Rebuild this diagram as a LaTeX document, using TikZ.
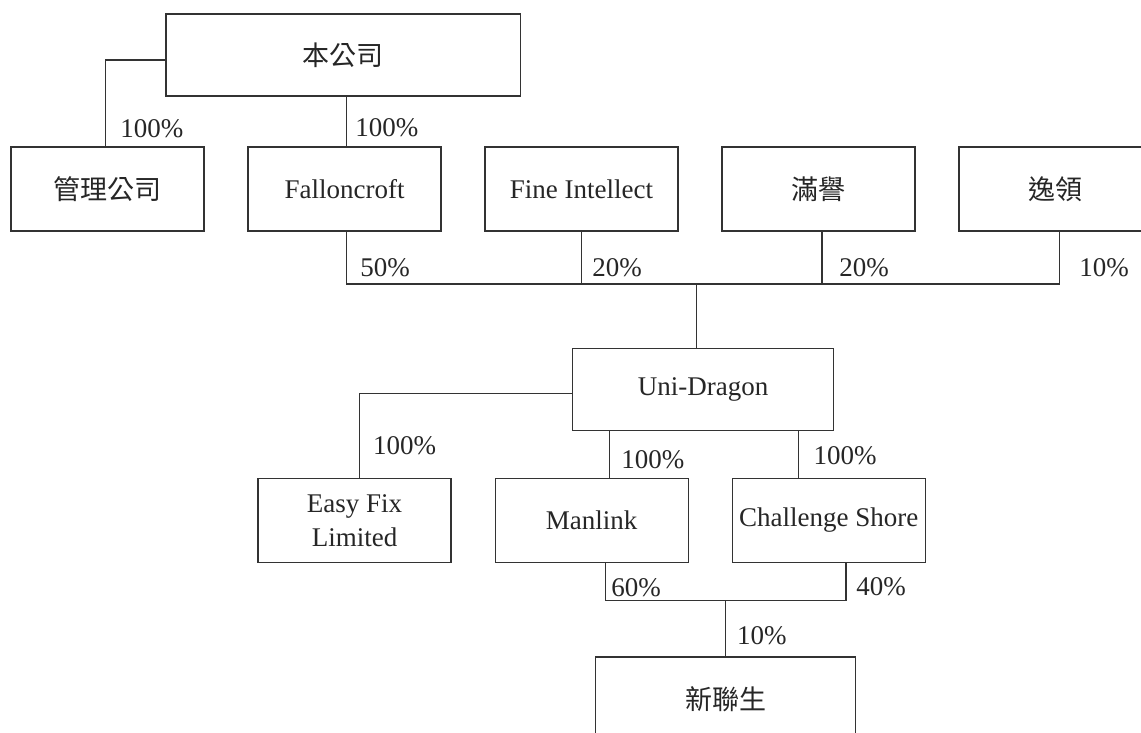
\documentclass[tikz,border=0pt]{standalone}
\usepackage{fontspec}
\setmainfont{Liberation Serif}
\newfontfamily\cjk{Noto Sans CJK TC}
\usetikzlibrary{calc}

\tikzset{
	box/.style = {draw=black!80, line width=0.65pt, text=black!85, inner sep=0pt,
		minimum width=96.5pt, minimum height=42pt, align=center,
		font=\fontsize{13.5}{17}\selectfont},
	pct/.style = {anchor=base west, inner sep=0pt, text=black!85,
		font=\fontsize{13.5}{17}\selectfont},
	link/.style = {draw=black!80, line width=0.6pt}
}

\begin{document}
\begin{tikzpicture}[x=0.5pt, y=-0.5pt]
	\useasboundingbox (0,0) rectangle (1141,733);
	\clip (0,0) rectangle (1141,733);
	% top
	\node[box, minimum width=177.3pt, minimum height=41pt] (parent) at (343.4,55) {\cjk 本公司};
	\node[box] (mgmt) at (107.5,189) {\cjk 管理公司};
	\node[box] (fallon) at (344.5,189) {Falloncroft};
	\node[box] (fine) at (581.5,189) {Fine Intellect};
	\node[box] (manyu) at (818.5,189) {\cjk 滿譽};
	\node[box] (yatling) at (1055.5,189) {\cjk 逸領};
	% middle
	\node[box, minimum width=130.5pt, minimum height=41pt] (unidragon) at (703.2,389.5) {Uni-Dragon};
	\node[box] (easyfix) at (354.5,520.5) {Easy Fix\\Limited};
	\node[box] (manlink) at (591.7,520.5) {Manlink};
	\node[box] (challenge) at (828.7,520.5) {Challenge Shore};
	% bottom
	\node[box, minimum width=130pt] (newco) at (725.8,699) {\cjk 新聯生};

	\coordinate (bus) at (696.3,284);
	\coordinate (join) at (725.7,600.7);
	\coordinate (udl) at ([xshift=18.8pt]unidragon.south west);
	\coordinate (udr) at ([xshift=-18pt]unidragon.south east);

	\draw[link] ([yshift=-2.5pt]parent.west) -| ([xshift=-1pt]mgmt.north);
	\draw[link] ([xshift=1pt]fallon.north) -- ([xshift=1pt]fallon.north |- parent.south);
	\draw[link] ([xshift=1pt]fallon.south) -- ([xshift=1pt]fallon.south |- bus) -- ([xshift=2pt]yatling.south |- bus) -- ([xshift=2pt]yatling.south);
	\draw[link] (fine.south) -- (fine.south |- bus);
	\draw[link] ([xshift=1.7pt]manyu.south) -- ([xshift=1.7pt]manyu.south |- bus);
	\draw[link] (bus) -- (bus |- unidragon.north);
	\draw[link] ([yshift=-2pt]unidragon.west) -| ([xshift=2.6pt]easyfix.north);
	\draw[link] (udl) -- (udl |- manlink.north);
	\draw[link] (udr) -- (udr |- challenge.north);
	\draw[link] ([xshift=6.8pt]manlink.south) |- (join) -| ([xshift=8.6pt]challenge.south);
	\draw[link] (join) -- (join |- newco.north);

	\node[pct] (p1) at (120,138) {100\%};
	\node[pct] (p2) at (355,137) {100\%};
	\node[pct] (p3) at (360,276) {50\%};
	\node[pct] (p4) at (592,276) {20\%};
	\node[pct] (p5) at (839,276) {20\%};
	\node[pct] (p6) at (1079,276) {10\%};
	\node[pct] (p7) at (372.7,454) {100\%};
	\node[pct] (p8) at (621,468) {100\%};
	\node[pct] (p9) at (813.3,464) {100\%};
	\node[pct] (p10) at (611,596) {60\%};
	\node[pct] (p11) at (856,595) {40\%};
	\node[pct] (p12) at (736.7,644.7) {10\%};
\end{tikzpicture}
\end{document}
